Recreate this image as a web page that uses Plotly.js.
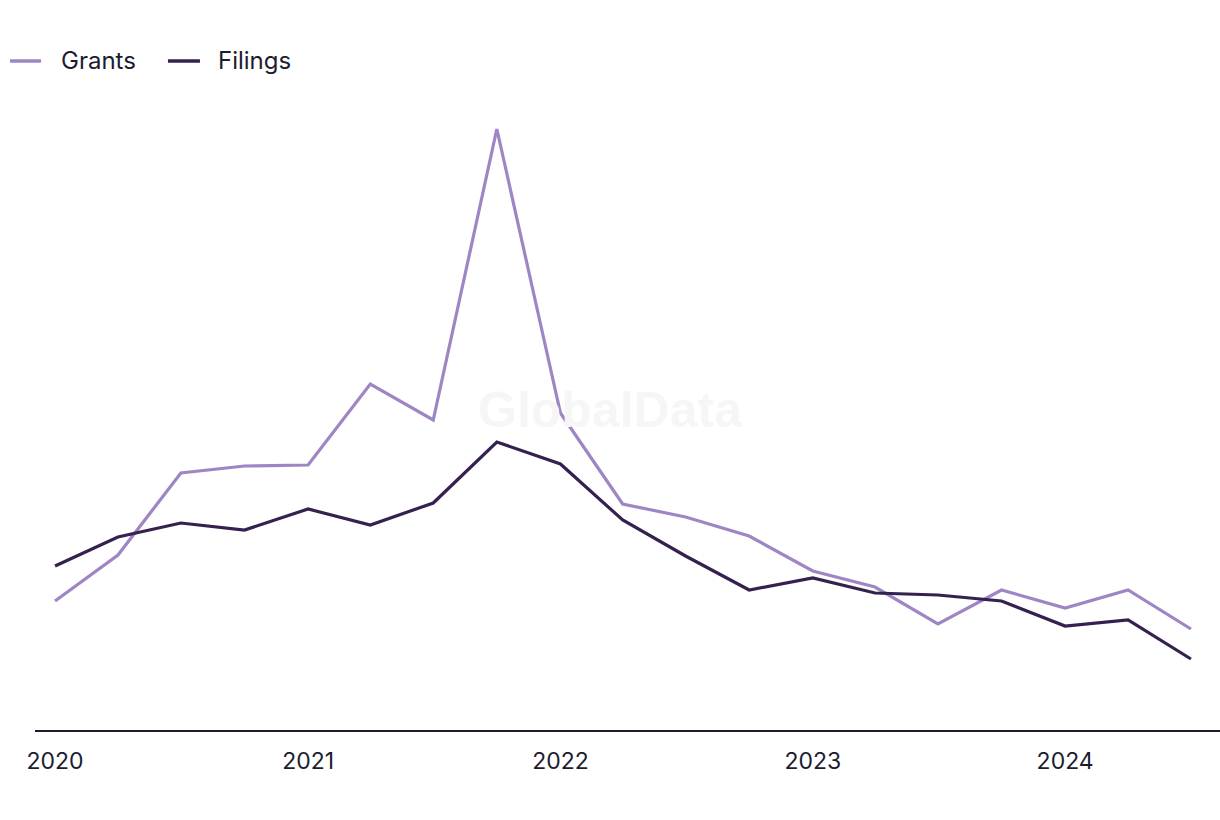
<!DOCTYPE html>
<html>
<head>
<meta charset="utf-8">
<script src="https://cdn.plot.ly/plotly-3.0.1.min.js"></script>
<style>
html,body{margin:0;padding:0;background:#fff;}
#chart{width:1220px;height:820px;}
</style>
</head>
<body>
<div id="chart"></div>
<script>
const quarters = ["2020-01-01","2020-04-01","2020-07-01","2020-10-01",
  "2021-01-01","2021-04-01","2021-07-01","2021-10-01",
  "2022-01-01","2022-04-01","2022-07-01","2022-10-01",
  "2023-01-01","2023-04-01","2023-07-01","2023-10-01",
  "2024-01-01","2024-04-01","2024-07-01"];
const grants  = [129,175,257,264,265,346,310,601,317,226,213,194,159,143,106,140,122,140,101];
const filings = [164,193,207,200,221,205,227,288,266,210,174,140,152,137,135,129,104,110,71];
const tickVals = ["2020-01-01","2021-01-01","2022-01-01","2023-01-01","2024-01-01"];
const tickText = ["2020","2021","2022","2023","2024"];
const seriesNames = ["Grants","Filings"];
const seriesColors = ["#9e86c4","#35214f"];

const FONT = "Inter, 'Noto Sans', sans-serif";
const TEXT = "#1c1c2e";
const traces = [
  {x: quarters, y: grants, name: seriesNames[0], type: "scatter", mode: "lines",
   line: {color: seriesColors[0], width: 3.2}, showlegend: false},
  {x: quarters, y: filings, name: seriesNames[1], type: "scatter", mode: "lines",
   line: {color: seriesColors[1], width: 3.2}, showlegend: false}
];

// custom legend (line sample + label), placed above the plot area
const legY = 1.062;
const legLines = [[-0.0211, 0.0051], [0.1122, 0.1392]];
const legText = [0.0203, 0.1527];
const shapes = [], annotations = [];
seriesNames.forEach((n, i) => {
  shapes.push({type: "line", xref: "paper", yref: "paper",
    x0: legLines[i][0], x1: legLines[i][1], y0: legY, y1: legY,
    line: {color: seriesColors[i], width: 3.5}});
  annotations.push({text: n, xref: "paper", yref: "paper", x: legText[i], y: legY,
    xanchor: "left", yanchor: "middle", showarrow: false,
    font: {family: FONT, size: 24, color: TEXT}});
});
annotations.push({text: "<b>GlobalData</b>", xref: "paper", yref: "paper",
  x: 0.486, y: 0.508, showarrow: false,
  font: {family: "'Liberation Sans', Arial, sans-serif", size: 50, color: "#f6f6f6"}});

const layout = {
  width: 1220, height: 820,
  paper_bgcolor: "#ffffff", plot_bgcolor: "#ffffff",
  margin: {l: 35, r: 0, t: 100, b: 90},
  font: {family: FONT, color: TEXT, size: 23},
  showlegend: false,
  xaxis: {type: "date", range: ["2019-12-03","2024-08-12"],
    tickmode: "array", tickvals: tickVals, ticktext: tickText,
    showgrid: false, zeroline: false, showline: true,
    linecolor: TEXT, linewidth: 2,
    ticks: "outside", ticklen: 9, tickcolor: "rgba(0,0,0,0)",
    tickfont: {family: FONT, size: 23, color: TEXT}},
  yaxis: {range: [0, 630], showgrid: false, zeroline: false,
    showline: false, showticklabels: false, ticks: ""},
  shapes: shapes,
  annotations: annotations
};
Plotly.newPlot("chart", traces, layout, {displayModeBar: false, staticPlot: true});
</script>
</body>
</html>
